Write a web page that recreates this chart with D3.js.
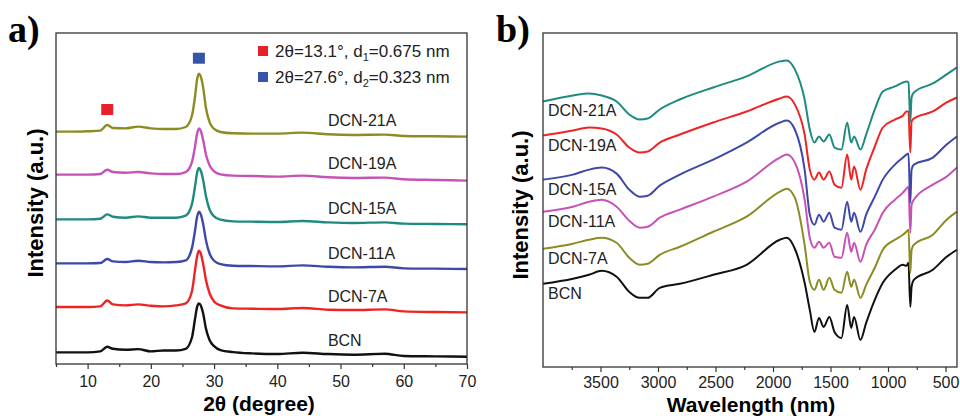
<!DOCTYPE html>
<html>
<head>
<meta charset="utf-8">
<script src="https://cdn.jsdelivr.net/npm/d3@7"></script>
<style>
  body { margin: 0; background: #fff; }
  svg { font-family: Arial, "Liberation Sans", sans-serif; }
  .tick text { font-size: 16px; fill: #222; }
  .tick line { stroke: #333; stroke-width: 1.2; }
  .domain { display: none; }
</style>
</head>
<body>
<div id="chart"></div>
<script>
// a) XRD patterns
const xrdTheta = [5, 8, 10, 12, 13.1, 14, 16, 18, 20, 22, 24, 25.5, 26.5, 27, 27.3, 27.6, 27.9, 28.3, 28.7, 29.3, 30, 31, 33, 36, 40, 44, 48, 52, 57, 60, 65, 70];
const xrdBCN   = [3.5, 3.5, 3.5, 3.8, 5.2, 4.6, 4.3, 4.5, 3.8, 4.1, 4.1, 4.6, 8.0, 13.8, 17.1, 18.3, 17.7, 15.0, 10.8, 7.2, 5.4, 4.2, 3.6, 3.2, 3.0, 3.4, 3.0, 2.8, 3.1, 2.4, 2.3, 2.2];
const xrd7A    = [17.2, 17.2, 17.2, 17.4, 19.2, 18.0, 17.7, 18.0, 17.6, 17.4, 17.7, 18.3, 22.0, 28.5, 32.4, 34.2, 33.3, 30.0, 25.5, 21.3, 18.9, 17.7, 16.8, 16.7, 16.6, 16.9, 16.4, 16.3, 16.5, 15.9, 15.7, 15.6];
const xrd11A   = [30.4, 30.4, 30.4, 30.5, 31.7, 31.0, 30.8, 31.2, 30.8, 30.7, 30.8, 31.3, 35.0, 40.5, 44.3, 46.0, 45.2, 42.0, 37.5, 33.3, 31.2, 30.2, 29.7, 29.6, 29.5, 29.8, 29.4, 29.2, 29.4, 28.9, 28.8, 28.7];
const xrd15A   = [43.7, 43.7, 43.7, 43.9, 45.2, 44.5, 44.2, 44.6, 44.2, 44.2, 44.2, 44.8, 48.3, 53.8, 57.6, 59.2, 58.4, 55.3, 50.8, 46.6, 44.6, 43.6, 43.1, 43.0, 42.9, 43.2, 42.8, 42.6, 42.8, 42.4, 42.3, 42.2];
const xrd19A   = [57.2, 57.2, 57.2, 57.4, 58.7, 58.0, 57.8, 58.0, 57.6, 57.4, 57.4, 58.0, 61.0, 65.8, 69.5, 71.2, 70.4, 67.4, 63.4, 60.0, 58.2, 57.3, 56.9, 56.8, 56.6, 56.9, 56.4, 56.2, 56.3, 55.8, 55.6, 55.4];
const xrd21A   = [70.2, 70.2, 70.3, 70.5, 72.2, 71.3, 71.2, 71.7, 71.2, 71.0, 71.0, 71.6, 75.0, 81.0, 85.8, 87.7, 86.8, 83.2, 77.5, 73.0, 71.0, 70.1, 69.7, 69.6, 69.6, 69.9, 69.4, 69.2, 69.3, 68.9, 68.8, 68.7];
const xrdTicks = [10, 20, 30, 40, 50, 60, 70];
const xrdMinor = [5, 15, 25, 35, 45, 55, 65];
const xrdPeaks = [13.1, 27.6];
const legendText = [["2θ=13.1°, d", "1", "=0.675 nm"], ["2θ=27.6°, d", "2", "=0.323 nm"]];

// b) FTIR spectra
const irWave = [4000, 3740, 3600, 3490, 3360, 3250, 3160, 3090, 2985, 2810, 2520, 2230, 1940, 1880, 1810, 1725, 1680, 1640, 1600, 1560, 1510, 1465, 1405, 1355, 1320, 1295, 1240, 1190, 1115, 1045, 940, 870, 840, 822, 806, 795, 775, 610, 490, 400];
const irBCN = [24.9, 26.4, 27.6, 28.8, 27.0, 22.5, 20.7, 20.7, 23.7, 24.9, 27.6, 30.6, 38.1, 38.7, 35.4, 25.2, 17.1, 10.5, 14.7, 12.0, 15.0, 10.5, 8.7, 18.6, 11.7, 15.0, 8.1, 13.2, 20.1, 25.2, 29.1, 30.6, 30.3, 31.2, 18.0, 24.0, 26.1, 29.1, 33.0, 35.1];
const ir7A  = [35.4, 36.9, 38.1, 38.7, 37.2, 32.7, 30.6, 30.9, 33.6, 36.0, 40.5, 45.0, 52.5, 53.4, 50.7, 36.6, 25.5, 23.1, 26.1, 23.1, 26.7, 23.1, 22.2, 28.5, 24.0, 26.1, 20.7, 24.6, 29.7, 35.1, 38.1, 39.6, 40.5, 41.1, 28.2, 35.1, 36.6, 39.6, 44.1, 46.5];
const ir11A = [46.5, 48.0, 49.5, 50.1, 48.0, 43.8, 41.7, 42.0, 44.7, 47.1, 51.0, 55.5, 62.7, 63.6, 61.2, 50.1, 38.7, 35.7, 37.5, 35.7, 37.2, 33.0, 32.7, 40.2, 34.5, 37.2, 31.5, 36.6, 41.1, 46.2, 50.1, 52.2, 53.4, 54.0, 40.2, 48.6, 50.1, 54.6, 57.0, 59.7];
const ir15A = [56.1, 57.6, 59.1, 59.7, 57.9, 53.1, 51.0, 51.3, 54.3, 57.6, 62.1, 67.2, 73.2, 73.8, 71.1, 59.1, 45.6, 42.6, 45.6, 43.5, 46.2, 41.7, 41.1, 49.5, 43.5, 46.2, 40.5, 45.6, 51.0, 56.1, 60.6, 62.7, 63.6, 63.9, 49.2, 59.1, 60.6, 62.7, 66.6, 69.0];
const ir19A = [69.3, 70.8, 71.7, 71.4, 69.6, 65.7, 64.2, 64.5, 67.2, 69.6, 73.2, 76.5, 80.4, 81.0, 78.6, 69.6, 59.1, 56.1, 58.2, 56.1, 58.5, 54.6, 53.7, 63.6, 56.1, 60.0, 53.1, 59.1, 66.0, 71.7, 74.1, 75.3, 76.5, 76.5, 64.2, 73.5, 74.4, 76.5, 79.2, 80.7];
const ir21A = [79.5, 81.3, 81.9, 81.3, 79.5, 75.6, 74.1, 74.4, 77.1, 80.1, 83.7, 87.0, 91.5, 91.8, 89.1, 80.1, 71.1, 67.2, 69.0, 67.5, 69.6, 65.7, 65.1, 73.2, 67.2, 69.0, 65.1, 69.6, 77.1, 82.5, 84.0, 85.2, 85.5, 85.2, 73.5, 80.7, 82.2, 84.9, 87.6, 89.7];
const irTicks = [3500, 3000, 2500, 2000, 1500, 1000, 500];
const irMinor = [3750, 3250, 2750, 2250, 1750, 1250, 750];

const sampleNames = ["BCN", "DCN-7A", "DCN-11A", "DCN-15A", "DCN-19A", "DCN-21A"];

const xrdSeries = [
    { name: sampleNames[0], values: xrdBCN, color: "#111111" },
    { name: sampleNames[1], values: xrd7A,  color: "#ee2424" },
    { name: sampleNames[2], values: xrd11A, color: "#3d48a8" },
    { name: sampleNames[3], values: xrd15A, color: "#1f8a80" },
    { name: sampleNames[4], values: xrd19A, color: "#c652b6" },
    { name: sampleNames[5], values: xrd21A, color: "#8c8c24" }
];
const irSeries = [
    { name: sampleNames[0], values: irBCN, color: "#111111" },
    { name: sampleNames[1], values: ir7A,  color: "#8c8c24" },
    { name: sampleNames[2], values: ir11A, color: "#c652b6" },
    { name: sampleNames[3], values: ir15A, color: "#3d48a8" },
    { name: sampleNames[4], values: ir19A, color: "#ee2424" },
    { name: sampleNames[5], values: ir21A, color: "#1f8a80" }
];
const peakColors = ["#e8202a", "#3556a8"];

const svg = d3.select("#chart")
    .append("svg")
    .attr("width", 960)
    .attr("height", 416);

// bottom axis with major + minor ticks
function drawXAxis(x, y0, major, minor, pad) {
    svg.append("g")
        .attr("transform", `translate(0, ${y0})`)
        .call(d3.axisBottom(x).tickValues(major).tickSize(5).tickPadding(pad).tickFormat(d3.format("d")));
    svg.append("g")
        .attr("transform", `translate(0, ${y0})`)
        .call(d3.axisBottom(x).tickValues(minor).tickSize(3).tickFormat(""));
}

function drawFrame(x0, y0, x1, y1) {
    svg.append("rect")
        .attr("x", x0).attr("y", y0)
        .attr("width", x1 - x0).attr("height", y1 - y0)
        .attr("fill", "none")
        .attr("stroke", "#333")
        .attr("stroke-width", 1.3);
}

function yTitle(cx, cy) {
    svg.append("text")
        .attr("transform", `translate(${cx}, ${cy}) rotate(-90)`)
        .attr("text-anchor", "middle")
        .style("font-size", "22px")
        .style("font-weight", "bold")
        .text("Intensity (a.u.)");
}

// ---------- panel a ----------
const xA = d3.scaleLinear().domain([5, 70]).range([56, 467]);
const yA = d3.scaleLinear().domain([0, 100]).range([364, 33]);

drawXAxis(xA, 364, xrdTicks, xrdMinor, 7);

const lineA = d3.line()
    .x((d, i) => xA(xrdTheta[i]))
    .y(d => yA(d))
    .curve(d3.curveMonotoneX);

svg.append("g")
    .selectAll("path")
    .data(xrdSeries)
    .enter()
    .append("path")
    .attr("d", d => lineA(d.values))
    .attr("fill", "none")
    .attr("stroke", d => d.color)
    .attr("stroke-width", 2.4);

// sample names, above each pattern
const labelIdxA = xrdTheta.indexOf(48);
svg.append("g")
    .selectAll("text")
    .data(xrdSeries)
    .enter()
    .append("text")
    .attr("x", xA(48))
    .attr("y", d => yA(d.values[labelIdxA]) - 8)
    .style("font-size", "16px")
    .style("fill", "#222")
    .text(d => d.name);

// peak markers over the DCN-21A pattern
svg.append("g")
    .selectAll("rect")
    .data(xrdPeaks)
    .enter()
    .append("rect")
    .attr("x", d => xA(d) - 6)
    .attr("y", d => yA(xrd21A[xrdTheta.indexOf(d)]) - 21)
    .attr("width", 12)
    .attr("height", 11)
    .attr("fill", (d, i) => peakColors[i]);

// legend
const legend = svg.append("g").attr("transform", "translate(258, 46)");
legendText.forEach((t, i) => {
    legend.append("rect")
        .attr("x", 0).attr("y", i * 26)
        .attr("width", 10).attr("height", 10)
        .attr("fill", peakColors[i]);
    const txt = legend.append("text")
        .attr("x", 17).attr("y", i * 26 + 11)
        .style("font-size", "17px")
        .style("fill", "#222");
    txt.append("tspan").text(t[0]);
    txt.append("tspan").attr("dy", 4).style("font-size", "11px").text(t[1]);
    txt.append("tspan").attr("dy", -4).text(t[2]);
});

drawFrame(56, 33, 467, 364);
yTitle(43, 203);

svg.append("text")
    .attr("x", 259).attr("y", 411)
    .attr("text-anchor", "middle")
    .style("font-size", "21px")
    .style("font-weight", "bold")
    .text("2θ (degree)");

svg.append("text")
    .attr("x", 8).attr("y", 42)
    .style("font-family", "'Liberation Serif', 'Times New Roman', serif")
    .style("font-size", "38px")
    .style("font-weight", "bold")
    .text("a)");

// ---------- panel b ----------
const xB = d3.scaleLinear().domain([4000, 400]).range([543, 957]);
const yB = d3.scaleLinear().domain([0, 100]).range([367, 33]);

drawXAxis(xB, 367, irTicks, irMinor, 5);

const lineB = d3.line()
    .x((d, i) => xB(irWave[i]))
    .y(d => yB(d))
    .curve(d3.curveMonotoneX);

svg.append("g")
    .selectAll("path")
    .data(irSeries)
    .enter()
    .append("path")
    .attr("d", d => lineB(d.values))
    .attr("fill", "none")
    .attr("stroke", d => d.color)
    .attr("stroke-width", 2);

svg.append("g")
    .selectAll("text")
    .data(irSeries)
    .enter()
    .append("text")
    .attr("x", xB(4000) + 5)
    .attr("y", d => yB(d.values[0]) + 15)
    .style("font-size", "16px")
    .style("fill", "#222")
    .text(d => d.name);

drawFrame(543, 33, 957, 367);
yTitle(528, 205);

svg.append("text")
    .attr("x", 751).attr("y", 411.5)
    .attr("text-anchor", "middle")
    .style("font-size", "21px")
    .style("font-weight", "bold")
    .text("Wavelength (nm)");

svg.append("text")
    .attr("x", 496).attr("y", 42)
    .style("font-family", "'Liberation Serif', 'Times New Roman', serif")
    .style("font-size", "38px")
    .style("font-weight", "bold")
    .text("b)");
</script>
</body>
</html>
